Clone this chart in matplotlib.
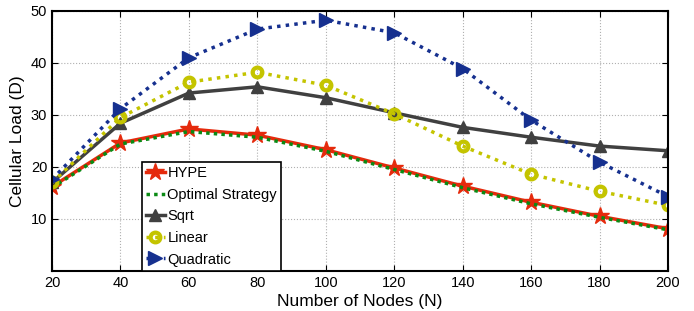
import matplotlib
matplotlib.use("Agg")
import matplotlib.pyplot as plt

plt.rcParams['font.family'] = ['Liberation Sans', 'DejaVu Sans']

# data
nodes = [20, 40, 60, 80, 100, 120, 140, 160, 180, 200]
hype = [16.2, 24.6, 27.3, 26.1, 23.3, 19.8, 16.3, 13.2, 10.5, 8.1]
optimal = [16.0, 24.4, 26.8, 25.7, 23.0, 19.5, 16.0, 12.9, 10.3, 7.9]
sqrt_s = [17.0, 28.4, 34.2, 35.4, 33.3, 30.4, 27.6, 25.7, 24.0, 23.1]
linear = [17.0, 29.5, 36.3, 38.2, 35.7, 30.2, 24.0, 18.6, 15.3, 12.6]
quadratic = [17.6, 31.2, 41.0, 46.5, 48.2, 45.8, 38.9, 29.0, 20.9, 14.3]
labels = ['HYPE', 'Optimal Strategy', 'Sqrt', 'Linear', 'Quadratic']

fig = plt.figure(figsize=(6.94, 3.11), dpi=100)
ax = fig.add_axes([0.075, 0.129, 0.8875, 0.836])

ax.plot(nodes, hype, color='#e52a0c', lw=2.5, marker='*', ms=13, label=labels[0])
ax.plot(nodes, optimal, color='#0a8a14', lw=2.5, ls=(0, (1, 1.2)), label=labels[1])
ax.plot(nodes, sqrt_s, color='#404040', lw=2.5, marker='^', ms=9, label=labels[2])
ax.plot(nodes, linear, color='#c4c400', lw=2.5, ls=(0, (1, 1.5)), marker='o', ms=7,
        mfc='none', mew=3, label=labels[3])
ax.plot(nodes, quadratic, color='#16308f', lw=2.5, ls=(0, (1, 1.5)), marker='>', ms=10,
        label=labels[4])

ax.set_xlim(20, 200)
ax.set_ylim(0, 50)
ax.set_xticks(nodes)
ax.set_yticks([10, 20, 30, 40, 50])
ax.grid(True, ls=':', color='#b0b0b0', lw=0.8)
ax.tick_params(direction='in', top=True, right=True, labelsize=10.5, length=4)
for s in ax.spines.values():
    s.set_linewidth(1.5)
ax.set_xlabel('Number of Nodes (N)', fontsize=12.5, labelpad=3)
ax.set_ylabel('Cellular Load (D)', fontsize=12.5, labelpad=4)

# legend box sits on the bottom axis, left part of the plot
leg = ax.legend(loc='lower left', bbox_to_anchor=(0.146, 0.0), fontsize=10.5,
                fancybox=False, edgecolor='black', framealpha=1,
                handlelength=1.25, handletextpad=0.2, labelspacing=0.52,
                borderpad=0.3, borderaxespad=0)
leg.get_frame().set_linewidth(1.2)

fig.savefig('out.png', dpi=100)
